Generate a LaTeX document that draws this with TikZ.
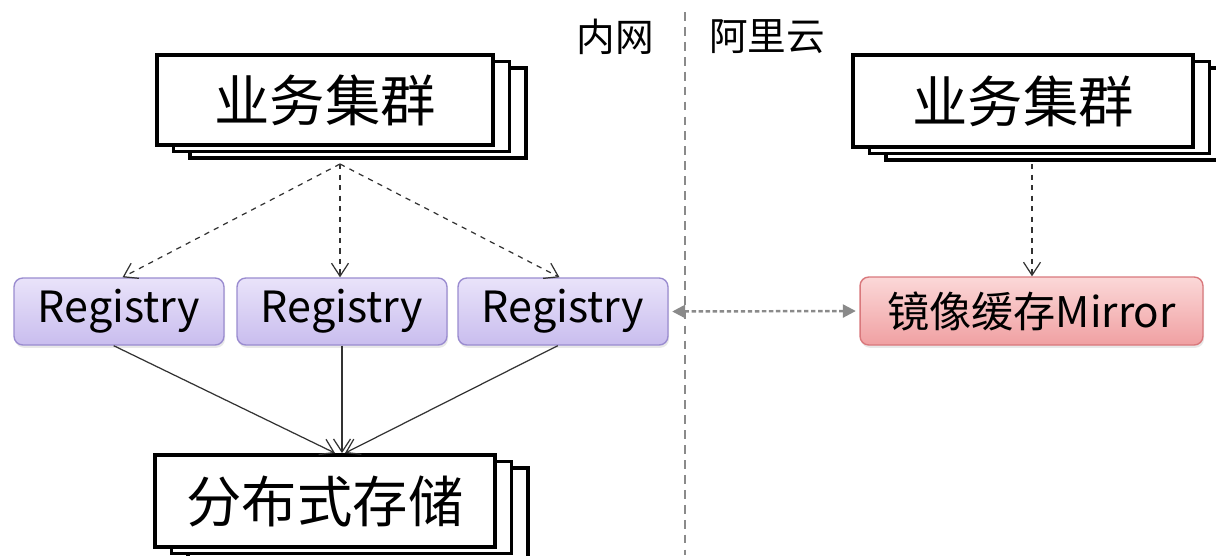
\documentclass[tikz,border=0pt]{standalone}
\usepackage{fontspec}
\setmainfont{Noto Sans CJK SC}
\usetikzlibrary{arrows.meta,shadows}
\definecolor{regtop}{HTML}{E9E3FA}
\definecolor{regbot}{HTML}{C9BDEE}
\definecolor{regline}{HTML}{9A8CD0}
\definecolor{mirtop}{HTML}{FBD8D8}
\definecolor{mirbot}{HTML}{F0A0A2}
\definecolor{mirline}{HTML}{D9787C}
\definecolor{linkgray}{HTML}{8A8A8A}
\tikzset{
  cluster/.style={draw,line width=2.2pt,fill=white,inner sep=0pt,
    minimum width=6.72cm,minimum height=1.8cm,font=\fontsize{31.5}{31.5}\selectfont,
    double copy shadow={shadow xshift=0.33cm,shadow yshift=-0.13cm,opacity=1,
      fill=white,draw=black,line width=2.2pt}},
  regbox/.style={draw=regline,line width=0.8pt,rounded corners=5pt,
    top color=regtop,bottom color=regbot,inner sep=0pt,
    minimum width=4.2cm,minimum height=1.34cm,font=\fontsize{24.5}{24.5}\selectfont,
    drop shadow={opacity=0.18,shadow xshift=0.6pt,shadow yshift=-1.6pt}},
  mirbox/.style={regbox,draw=mirline,top color=mirtop,bottom color=mirbot,
    minimum width=6.86cm,minimum height=1.36cm,font=\fontsize{24}{24}\selectfont},
  zone/.style={font=\fontsize{22}{22}\selectfont},
  pull/.style={dashed,line width=0.7pt,black!80,
    -{Straight Barb[length=2.6mm,width=3.4mm]}},
  push/.style={line width=0.7pt,black!80,
    -{Straight Barb[length=2.6mm,width=3.4mm]}}
}
\begin{document}
\begin{tikzpicture}[x=0.02cm,y=-0.02cm]
  \useasboundingbox (0,0) rectangle (1216,555);
  \draw[dashed,line width=1pt,linkgray,dash pattern=on 5pt off 3.5pt] (685,12) -- (685,555);
  \node[zone,anchor=east] (lan) at (660,37) {内网};
  \node[zone,anchor=west] (cloud) at (703,37) {阿里云};

  \node[cluster] (bizL) at (325,100) {业务集群};
  \node[cluster,minimum width=6.8cm,minimum height=1.84cm] (bizR) at (1023,101) {业务集群};
  \node[cluster,minimum width=6.8cm,minimum height=1.84cm] (store) at (325,501) {分布式存储};

  \node[regbox] (reg1) at (119,311.5) {Registry};
  \node[regbox] (reg2) at (342,311.5) {Registry};
  \node[regbox] (reg3) at (563,311.5) {Registry};
  \node[mirbox] (mirror) at (1031.5,311) {镜像缓存Mirror};

  \coordinate (fanL) at (340,164);
  \coordinate (fanR) at (1032,164);
  \draw[pull] (fanL) -- ([xshift=2pt]reg1.north);
  \draw[pull] (fanL) -- (reg2.north -| fanL);
  \draw[pull] (fanL) -- ([xshift=-2pt]reg3.north);
  \draw[pull] (fanR) -- (mirror.north -| fanR);

  \draw[dashed,linkgray,line width=1.4pt,dash pattern=on 2.5pt off 1.5pt,
    {Triangle[length=2.6mm,width=2.6mm]}-{Triangle[length=2.6mm,width=2.6mm]}]
    ([xshift=2pt]reg3.east) -- ([xshift=-2pt]mirror.west);

  \draw[push] ([xshift=-3pt]reg1.south) -- ([xshift=0.2cm]store.north);
  \draw[push] (reg2.south) -- (reg2.south |- store.north);
  \draw[push] ([xshift=-3pt]reg3.south) -- ([xshift=0.4cm]store.north);
\end{tikzpicture}
\end{document}
